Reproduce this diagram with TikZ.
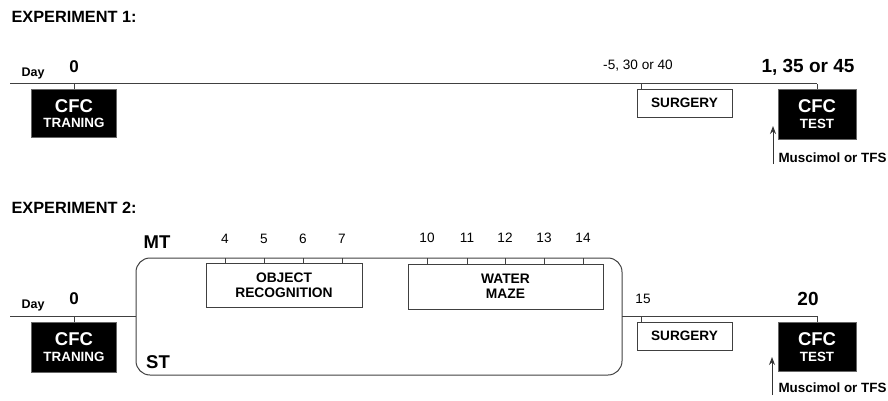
\documentclass[tikz,border=0pt]{standalone}
\usepackage{fontspec}
\setmainfont{Liberation Sans}
\usetikzlibrary{arrows.meta}
\begin{document}
\begin{tikzpicture}[x=1pt,y=-1pt,
  line/.style={draw=black!75,line width=1pt},
  blackbox/.style={fill=black,draw=black!60,line width=0.8pt,inner sep=0pt},
  whitebox/.style={fill=white,draw=black!75,line width=1pt,inner sep=0pt},
  boxtext/.style={font=\bfseries\fontsize{13.6}{14}\selectfont},
  twoline/.style={align=center,font=\bfseries\fontsize{13.8}{15}\selectfont},
  num/.style={font=\fontsize{13.6}{14}\selectfont},
  bignum/.style={font=\bfseries\fontsize{19}{20}\selectfont},
  zero/.style={font=\bfseries\fontsize{17}{18}\selectfont},
  cfc/.style={text=white,font=\bfseries\fontsize{18.5}{19}\selectfont},
  cfcsub/.style={text=white,font=\bfseries\fontsize{13.4}{14}\selectfont},
  title/.style={font=\bfseries\fontsize{16.3}{17}\selectfont,anchor=west},
  daylab/.style={font=\bfseries\fontsize{12.5}{13}\selectfont},
  note/.style={font=\bfseries\fontsize{13.4}{14}\selectfont,anchor=west},
  arr/.style={draw=black!80,line width=1pt,-{Stealth[length=8pt,width=6pt]}}]
\useasboundingbox (0,0) rectangle (888,401);

% ---------------- Experiment 1 ----------------
\node[title] (t1) at (8,17) {EXPERIMENT 1:};
\coordinate (l1s) at (10,84);
\coordinate (l1e) at (817,84);
\draw[line] (l1s) -- (l1e);

\node[blackbox,minimum width=85pt,minimum height=48pt] (tr1) at (73.5,113) {};
\node[cfc] (tr1a) at (74,106) {CFC};
\node[cfcsub] (tr1b) at (74,122.5) {TRANING};
\coordinate (k1a) at (74,84);
\draw[line] (k1a) -- (tr1.north -| k1a);
\node[daylab] (day1) at (33,73) {Day};
\node[zero] (z1) at (74,67) {0};

\node[whitebox,minimum width=95pt,minimum height=28pt] (su1) at (684.5,104) {};
\node[boxtext] (su1t) at (684.5,103) {SURGERY};
\coordinate (k1b) at (641,84);
\draw[line] (k1b) -- (su1.north -| k1b);
\node[num] (n1b) at (638,66) {-5, 30 or 40};

\node[blackbox,minimum width=78pt,minimum height=50pt] (te1) at (817,114) {};
\node[cfc] (te1a) at (817,106.5) {CFC};
\node[cfcsub] (te1b) at (817,124) {TEST};
\draw[line] (l1e) -- (te1.north -| l1e);
\node[bignum] (n1c) at (808,67) {1, 35 or 45};

\coordinate (a1s) at (773,164);
\coordinate (a1e) at (773,126);
\draw[arr] (a1s) -- (a1e);
\node[note] (m1) at (775,158) {Muscimol or TFS};

% ---------------- Experiment 2 ----------------
\node[title] (t2) at (8,208) {EXPERIMENT 2:};
\coordinate (l2s) at (10,316);
\coordinate (l2a) at (136,316);
\draw[line] (l2s) -- (l2a);

\node[blackbox,minimum width=85pt,minimum height=50pt] (tr2) at (73.5,347) {};
\node[cfc] (tr2a) at (74,339.5) {CFC};
\node[cfcsub] (tr2b) at (74,356.5) {TRANING};
\coordinate (k2a) at (74,316);
\draw[line] (k2a) -- (tr2.north -| k2a);
\node[daylab] (day2) at (33,305) {Day};
\node[zero] (z2) at (74,299) {0};

% MT / ST rounded frame
\node[draw=black!75,line width=1pt,rounded corners=14pt,minimum width=486pt,minimum height=117pt,inner sep=0pt] (frame) at (379,316.5) {};
\node[font=\bfseries\fontsize{18.5}{19}\selectfont] (mt) at (157,242) {MT};
\node[font=\bfseries\fontsize{18.5}{19}\selectfont] (st) at (158,362) {ST};

\node[whitebox,minimum width=156pt,minimum height=44pt,twoline] (obj) at (284,285) {OBJECT\\RECOGNITION};
\foreach \xx/\lab in {225/4,264/5,303/6,342/7}{
  \coordinate (o\lab) at (\xx,258);
  \draw[line] (o\lab) -- (obj.north -| o\lab);
  \node[num] at (\xx,239) {\lab};
}
\node[whitebox,minimum width=195pt,minimum height=45pt,twoline] (wm) at (505.5,286.5) {WATER\\MAZE};
\foreach \xx/\lab in {427/10,467/11,505/12,544/13,583/14}{
  \coordinate (w\lab) at (\xx,258);
  \draw[line] (w\lab) -- (wm.north -| w\lab);
  \node[num] at (\xx,238) {\lab};
}

\coordinate (l2b) at (622,316);
\coordinate (l2e) at (817,316);
\draw[line] (l2b) -- (l2e);

\node[whitebox,minimum width=95pt,minimum height=28pt] (su2) at (684.5,336) {};
\node[boxtext] (su2t) at (684.5,335.5) {SURGERY};
\coordinate (k2b) at (641,316);
\draw[line] (k2b) -- (su2.north -| k2b);
\node[num] (n2b) at (643,299) {15};

\node[blackbox,minimum width=78pt,minimum height=49pt] (te2) at (817,346.5) {};
\node[cfc] (te2a) at (817,339) {CFC};
\node[cfcsub] (te2b) at (817,356.5) {TEST};
\draw[line] (l2e) -- (te2.north -| l2e);
\node[bignum] (n2c) at (808,299) {20};

\coordinate (a2s) at (772,395);
\coordinate (a2e) at (772,357);
\draw[arr] (a2s) -- (a2e);
\node[note] (m2) at (775,388) {Muscimol or TFS};
\end{tikzpicture}
\end{document}
